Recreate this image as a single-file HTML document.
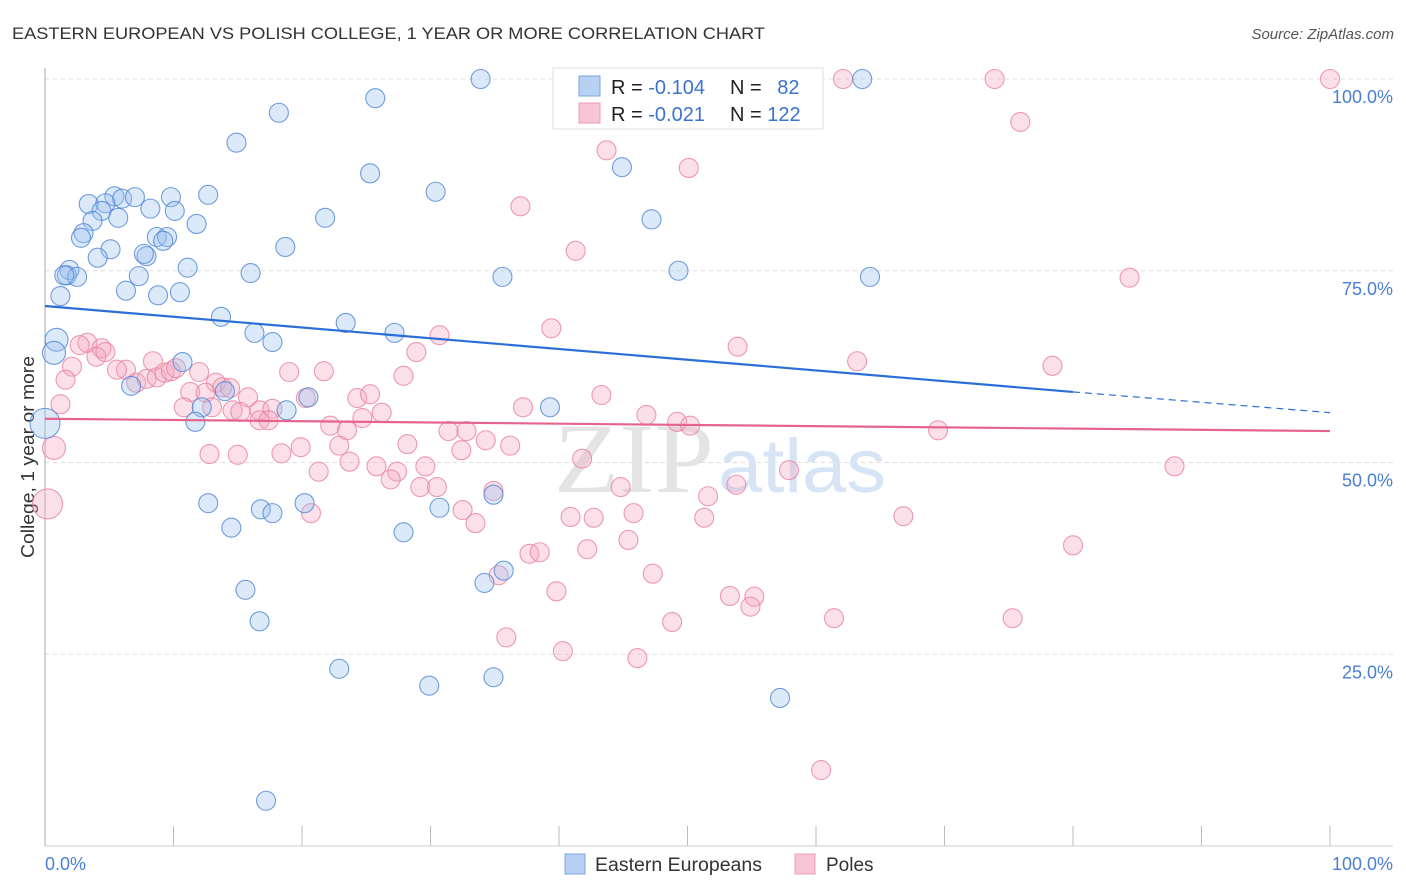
<!DOCTYPE html>
<html><head><meta charset="utf-8"><style>
body{margin:0;background:#fff;font-family:"Liberation Sans",sans-serif;}
svg{display:block}
</style></head><body>
<svg id="chart" width="1406" height="892" viewBox="0 0 1406 892" xmlns="http://www.w3.org/2000/svg">
<text x="12" y="39" font-size="17" fill="#333" textLength="753" lengthAdjust="spacingAndGlyphs">EASTERN EUROPEAN VS POLISH COLLEGE, 1 YEAR OR MORE CORRELATION CHART</text>
<text x="1394" y="39" font-size="15" fill="#555" font-style="italic" text-anchor="end">Source: ZipAtlas.com</text>
<g id="grid"></g>
<g id="ticks"></g>
<line x1="45" y1="68" x2="45" y2="846" stroke="#aaa" stroke-width="1"/>
<line x1="45" y1="846" x2="1393" y2="846" stroke="#ccc" stroke-width="1"/>
<text x="714" y="492" font-size="100" fill="#e4e4e4" font-family="Liberation Serif,serif" text-anchor="end" textLength="160" lengthAdjust="spacingAndGlyphs">ZIP</text>
<text x="718" y="492" font-size="76" fill="#d6e4f5" font-family="Liberation Sans,sans-serif" textLength="168" lengthAdjust="spacingAndGlyphs">atlas</text>
<g id="ylabels"></g>
<text transform="translate(34,457) rotate(-90)" font-size="18" fill="#333" text-anchor="middle" textLength="202" lengthAdjust="spacingAndGlyphs">College, 1 year or more</text>
<text x="45" y="870" font-size="18" fill="#4a7fd4">0.0%</text>
<text x="1393" y="870" font-size="18" fill="#4a7fd4" text-anchor="end">100.0%</text>
<g id="pink"></g>
<g id="blue"></g>
<g id="lines"></g>
<g>
<rect x="553" y="68" width="270" height="61" fill="#fff" fill-opacity="0.9" stroke="#ddd"/>
<rect x="579" y="76" width="21" height="20" fill="#b8d1f3" stroke="#7aa5e3"/>
<rect x="579" y="103" width="21" height="20" fill="#f7c5d5" stroke="#ec9bb6"/>
<text x="611" y="94" font-size="20" fill="#222">R = <tspan fill="#3b73d1">-0.104</tspan></text>
<text x="730" y="94" font-size="20" fill="#222">N = <tspan fill="#3b73d1" dx="10">82</tspan></text>
<text x="611" y="121" font-size="20" fill="#222">R = <tspan fill="#3b73d1">-0.021</tspan></text>
<text x="730" y="121" font-size="20" fill="#222">N = <tspan fill="#3b73d1">122</tspan></text>
</g>
<g>
<rect x="565" y="854" width="20" height="20" fill="#b8d1f3" stroke="#7aa5e3"/>
<text x="595" y="871" font-size="19" fill="#333" textLength="167" lengthAdjust="spacingAndGlyphs">Eastern Europeans</text>
<rect x="795" y="854" width="20" height="20" fill="#f7c5d5" stroke="#ec9bb6"/>
<text x="826" y="871" font-size="19" fill="#333">Poles</text>
</g>
</svg>
<script>
const yTicks=[100,75,50,25];
const yTickLabels=["100.0%","75.0%","50.0%","25.0%"];
const xTicks=[0,10,20,30,40,50,60,70,80,90,100];
const blueX=[33.9,63.6,25.7,18.2,14.9,25.3,44.9,30.4,5.4,12.7,9.8,3.4,6.0,7.0,4.7,4.4,8.2,10.1,5.7,3.7,11.8,21.8,47.2,3.0,2.8,5.1,8.7,9.5,9.2,4.1,7.9,7.7,18.7,11.1,1.9,1.7,2.5,1.5,7.3,16.0,35.6,49.3,64.2,6.3,8.8,10.5,1.2,13.7,23.4,16.3,27.2,17.7,0.9,0.7,10.7,6.7,14.0,20.5,12.2,18.8,39.3,11.7,0,12.7,20.2,30.7,16.8,17.7,14.5,27.9,34.9,35.7,34.2,15.6,16.7,22.9,29.9,34.9,57.2,17.2];
const blueY=[100,100,97.5,95.6,91.7,87.7,88.5,85.3,84.7,84.9,84.6,83.7,84.4,84.6,83.8,82.8,83.1,82.8,81.9,81.5,81.1,81.9,81.7,79.9,79.3,77.8,79.4,79.4,78.9,76.7,76.9,77.2,78.1,75.4,75.1,74.4,74.2,74.4,74.3,74.7,74.2,75.0,74.2,72.4,71.8,72.2,71.7,69.0,68.2,66.9,66.9,65.7,66.0,64.3,63.1,60.0,59.3,58.5,57.2,56.8,57.2,55.3,55.1,44.7,44.7,44.1,43.9,43.4,41.5,40.9,45.8,35.9,34.3,33.4,29.3,23.1,20.9,22.0,19.3,5.9];
const pinkX=[62.1,73.9,100,75.9,43.7,50.1,37.0,41.3,84.4,39.4,30.7,53.9,63.2,78.4,28.9,3.3,2.7,4.4,2.1,4.0,4.7,8.4,6.3,5.6,7.1,7.9,8.7,9.3,9.8,10.2,1.6,1.2,12.0,11.3,13.3,12.5,13.8,14.4,10.8,13.0,14.6,15.8,16.7,17.7,15.2,16.7,21.7,19.0,27.9,24.3,25.3,20.3,26.2,22.2,23.5,17.4,43.3,37.2,46.8,49.2,50.2,31.4,32.8,34.3,28.2,24.7,22.9,19.9,18.4,12.8,15.0,21.3,23.7,25.8,27.4,29.6,26.9,29.2,30.5,36.2,32.4,0.7,0.2,41.8,69.5,57.9,87.9,34.9,44.8,51.6,53.8,32.5,33.5,40.9,42.7,45.8,51.3,66.8,45.4,37.7,38.5,42.2,35.3,47.3,39.8,53.3,55.2,54.9,80.0,61.4,75.3,35.9,48.8,40.3,46.1,60.4,20.7];
const pinkY=[100,100,100,94.4,90.7,88.4,83.4,77.6,74.1,67.5,66.6,65.1,63.2,62.6,64.4,65.6,65.3,64.9,62.5,63.8,64.4,63.2,62.1,62.1,60.4,60.9,61.1,61.7,61.9,62.3,60.8,57.6,61.8,59.2,60.4,59.1,59.8,59.7,57.2,57.2,56.8,58.5,56.8,57.0,56.6,55.5,61.9,61.8,61.3,58.4,58.9,58.4,56.5,54.8,54.2,55.5,58.8,57.2,56.2,55.3,54.8,54.1,54.1,52.9,52.4,55.8,52.2,52.0,51.2,51.1,51.0,48.8,50.1,49.5,48.8,49.5,47.8,46.8,46.8,52.2,51.6,51.9,44.6,50.5,54.2,49.0,49.5,46.3,46.8,45.6,47.1,43.8,42.1,42.9,42.8,43.4,42.8,43.0,39.9,38.1,38.3,38.7,35.3,35.5,33.2,32.6,32.5,31.2,39.2,29.7,29.7,27.2,29.2,25.4,24.5,9.9,43.4];
const blueTrendX=[0,80,100];
const blueTrendY=[70.4,59.2,56.5];
const pinkTrendX=[0,100];
const pinkTrendY=[55.7,54.1];

const NS="http://www.w3.org/2000/svg";
const X=v=>45+v*12.85;
const Y=v=>846-v*7.67;
function mk(tag,parent,attrs){const e=document.createElementNS(NS,tag);for(const k in attrs)e.setAttribute(k,attrs[k]);parent.appendChild(e);return e;}
const grid=document.getElementById('grid'),yl=document.getElementById('ylabels'),tk=document.getElementById('ticks');
yTicks.forEach((t,i)=>{
  const l=mk('line',grid,{x1:45,x2:1393,y1:Y(t),y2:Y(t),stroke:'#ddd','stroke-dasharray':'4 4'});
  
  
  const tx=mk('text',yl,{x:1393,y:Y(t)+24,'font-size':18,fill:'#4a7fd4','text-anchor':'end'});
  tx.textContent=yTickLabels[i];
  
  
});
xTicks.forEach(t=>{
  const l=mk('line',tk,{x1:X(t),x2:X(t),y1:826,y2:846,stroke:'#bbb'});
  
  
});
function dots(gid,xs,ys,fill,stroke){
  const g=document.getElementById(gid);
  xs.forEach((x,i)=>{
    const r=x<0.3?15:(x<1?11.5:9.5);
    const c=mk('circle',g,{cx:X(x),cy:Y(ys[i]),r:r,fill:fill,'fill-opacity':0.35,stroke:stroke,'stroke-width':1.1,'stroke-opacity':0.8});
    
    
  });
}
dots('pink',pinkX,pinkY,'#f4a6c0','#e8829f');
dots('blue',blueX,blueY,'#9cc0ee','#4f86d6');
const lg=document.getElementById('lines');
const bl=mk('line',lg,{x1:X(blueTrendX[0]),y1:Y(blueTrendY[0]),x2:X(blueTrendX[1]),y2:Y(blueTrendY[1]),stroke:'#2b6fd6','stroke-width':2.2});


const bd=mk('line',lg,{x1:X(blueTrendX[1]),y1:Y(blueTrendY[1]),x2:X(blueTrendX[2]),y2:Y(blueTrendY[2]),stroke:'#2b6fd6','stroke-width':1.2,'stroke-dasharray':'7 5'});


const pl=mk('line',lg,{x1:X(pinkTrendX[0]),y1:Y(pinkTrendY[0]),x2:X(pinkTrendX[1]),y2:Y(pinkTrendY[1]),stroke:'#e5638c','stroke-width':2.2});


</script>
</body></html>
